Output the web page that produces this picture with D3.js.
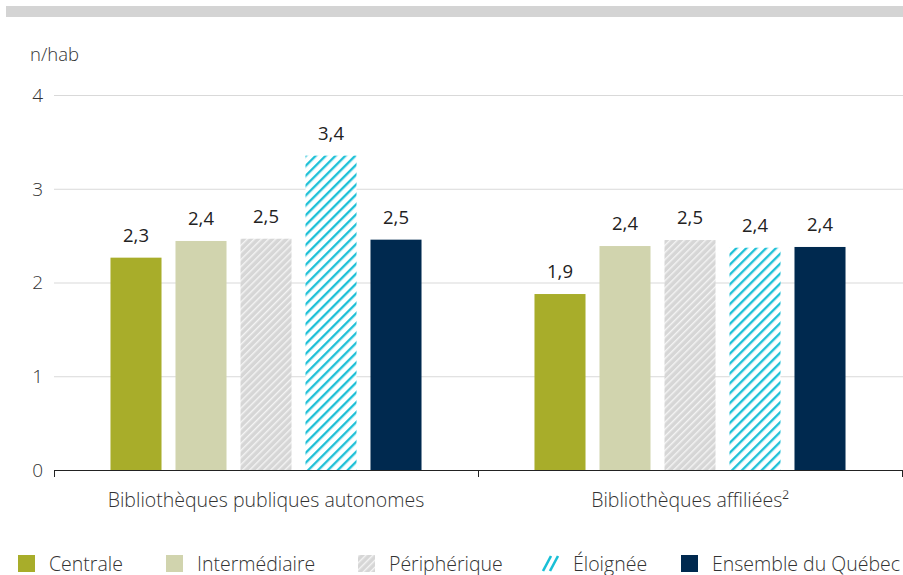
<!DOCTYPE html>
<html lang="fr">
<head>
<meta charset="utf-8">
<script src="https://cdn.jsdelivr.net/npm/d3@7/dist/d3.min.js"></script>
<style>
  html, body { margin: 0; padding: 0; background: #fff; }
  svg { display: block; font-family: "Open Sans", "Noto Sans", sans-serif; }
</style>
</head>
<body>
<svg id="chart" width="903" height="575"></svg>
<script>
// Prêts par habitant selon le type de municipalité
const groups = ["Bibliothèques publiques autonomes", "Bibliothèques affiliées²"];
const series = ["Centrale", "Intermédiaire", "Périphérique", "Éloignée", "Ensemble du Québec"];
const autonomes = [2.265, 2.443, 2.467, 3.353, 2.457];
const affiliees = [1.877, 2.389, 2.453, 2.371, 2.379];
const yTicks = [0, 1, 2, 3, 4];
const unitLabel = "n/hab";

const values = [autonomes, affiliees];

const svg = d3.select("#chart");
const W = 903;

const fills = {
  "Centrale": "#a8ad2a",
  "Intermédiaire": "#d1d4ae",
  "Périphérique": "url(#hatch-grey)",
  "Éloignée": "url(#hatch-cyan)",
  "Ensemble du Québec": "#00294f"
};

// Hatch patterns
const defs = svg.append("defs");
const pGrey = defs.append("pattern")
  .attr("id", "hatch-grey").attr("patternUnits", "userSpaceOnUse")
  .attr("width", 5).attr("height", 5).attr("patternTransform", "rotate(45)");
pGrey.append("rect").attr("width", 5).attr("height", 5).attr("fill", "#d6d6d6");
pGrey.append("line").attr("x1", 0.7).attr("x2", 0.7).attr("y1", 0).attr("y2", 5)
  .attr("stroke", "#f4f4f4").attr("stroke-width", 1.4);

const pCyan = defs.append("pattern")
  .attr("id", "hatch-cyan").attr("patternUnits", "userSpaceOnUse")
  .attr("width", 7).attr("height", 7).attr("patternTransform", "rotate(45)");
pCyan.append("rect").attr("width", 7).attr("height", 7).attr("fill", "#ffffff");
pCyan.append("line").attr("x1", 1.2).attr("x2", 1.2).attr("y1", 0).attr("y2", 7)
  .attr("stroke", "#19bfd6").attr("stroke-width", 2.3);

// Top band
svg.append("rect").attr("x", 6).attr("y", 6).attr("width", W - 6).attr("height", 11)
  .attr("fill", "#d4d4d4");

const plotLeft = 54, plotRight = 902, plotTop = 95, plotBottom = 470;

const y = d3.scaleLinear().domain([0, 4]).range([plotBottom, plotTop]);
const x0 = d3.scaleBand().domain(groups).range([plotLeft, plotRight]).padding(0);
const x1 = d3.scaleBand().domain(series).range([0, x0.bandwidth()])
  .paddingInner(0.215).paddingOuter(0.869);

// Unit label
svg.append("text").attr("x", 30).attr("y", 61)
  .attr("font-size", 18.5).attr("font-weight", 300).attr("fill", "#333")
  .text(unitLabel);

// Gridlines and y tick labels
const yAxis = svg.append("g");
yAxis.selectAll("line.grid").data(yTicks.filter(d => d > 0)).join("line")
  .attr("class", "grid")
  .attr("x1", plotLeft).attr("x2", W)
  .attr("y1", d => y(d) + 0.5).attr("y2", d => y(d) + 0.5)
  .attr("stroke", "#d9d9d9").attr("stroke-width", 1);
yAxis.selectAll("text").data(yTicks).join("text")
  .attr("x", 43).attr("y", d => y(d)).attr("dy", "0.36em")
  .attr("text-anchor", "end").attr("font-size", 19).attr("font-weight", 300)
  .attr("fill", "#333").text(d => d);

// Bars
const g = svg.append("g");
groups.forEach((grp, gi) => {
  const gg = g.append("g").attr("transform", `translate(${x0(grp)},0)`);
  const data = series.map((s, i) => ({ s, v: values[gi][i] }));
  gg.selectAll("rect").data(data).join("rect")
    .attr("x", d => x1(d.s)).attr("width", x1.bandwidth())
    .attr("y", d => y(d.v)).attr("height", d => y(0) - y(d.v))
    .attr("fill", d => fills[d.s]);
  gg.selectAll("text").data(data).join("text")
    .attr("x", d => x1(d.s) + x1.bandwidth() / 2)
    .attr("y", d => y(d.v) - 16)
    .attr("text-anchor", "middle").attr("font-size", 18.5)
    .attr("fill", "#222")
    .text(d => d3.format(".1f")(d.v).replace(".", ","));
});

// X axis with group separators
const xAxis = svg.append("g");
xAxis.append("line").attr("x1", plotLeft).attr("x2", plotRight + 0.5)
  .attr("y1", plotBottom + 0.5).attr("y2", plotBottom + 0.5)
  .attr("stroke", "#222").attr("stroke-width", 1);
const boundaries = [plotLeft, ...groups.map(gr => x0(gr) + x0.bandwidth())];
xAxis.selectAll("line.tick").data(boundaries).join("line")
  .attr("class", "tick")
  .attr("x1", d => d + 0.5).attr("x2", d => d + 0.5)
  .attr("y1", plotBottom).attr("y2", plotBottom + 7)
  .attr("stroke", "#222").attr("stroke-width", 1);
xAxis.selectAll("text").data(groups).join("text")
  .attr("x", d => x0(d) + x0.bandwidth() / 2).attr("y", 507)
  .attr("text-anchor", "middle").attr("font-size", 19.5).attr("font-weight", 300)
  .attr("fill", "#333").text(d => d);

// Legend (fixed item positions along the bottom row)
const legendX = [18, 166, 358, 542, 681];
const legend = svg.append("g").attr("transform", "translate(0,555)");
series.forEach((s, i) => {
  const item = legend.append("g").attr("transform", `translate(${legendX[i]},0)`);
  if (s === "Éloignée") {
    [0, 7].forEach(o => {
      item.append("line")
        .attr("x1", 1 + o).attr("y1", 16).attr("x2", 9 + o).attr("y2", 1)
        .attr("stroke", "#19bfd6").attr("stroke-width", 2.6);
    });
  } else {
    item.append("rect").attr("width", 17).attr("height", 17).attr("fill", fills[s]);
  }
  item.append("text").attr("x", 31).attr("y", 15.5)
    .attr("font-size", 19.5).attr("font-weight", 300).attr("fill", "#333").text(s);
});
</script>
</body>
</html>
